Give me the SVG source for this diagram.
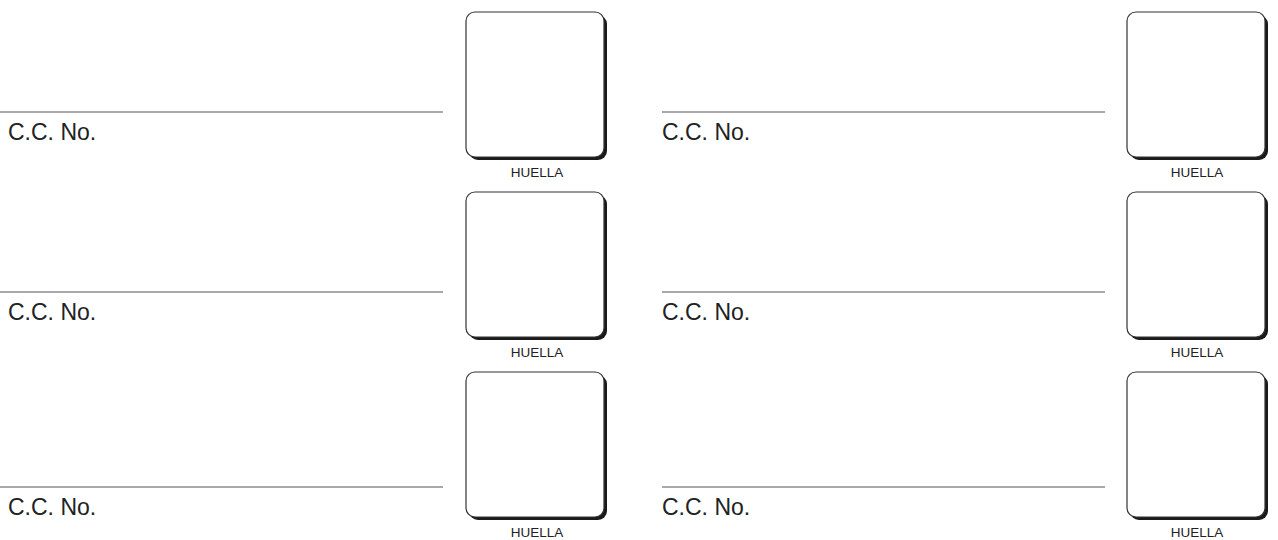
<svg xmlns="http://www.w3.org/2000/svg" width="1278" height="540" viewBox="0 0 1278 540">
<style>
.bg{fill:#fff}
.line{stroke:#555;stroke-width:1.2}
.cc{font-family:"Liberation Sans",Arial,sans-serif;font-size:23px;fill:#222}
.hl{font-family:"Liberation Sans",Arial,sans-serif;font-size:13.5px;fill:#222;text-anchor:middle}
.sh{fill:#1a1a1a}
.box{fill:#fff;stroke:#333;stroke-width:1.2}
</style>
<defs>
<g id="fp">
<rect class="sh" x="3" y="3" width="138" height="145" rx="9"/>
<rect class="box" x="0" y="0" width="138" height="145" rx="9"/>
</g>
</defs>
<rect class="bg" width="1278" height="540"/>
<g id="connectors">
<line class="line" x1="0" y1="112" x2="443" y2="112"/>
<line class="line" x1="0" y1="292" x2="443" y2="292"/>
<line class="line" x1="0" y1="487" x2="443" y2="487"/>
<line class="line" x1="662" y1="112" x2="1105" y2="112"/>
<line class="line" x1="662" y1="292" x2="1105" y2="292"/>
<line class="line" x1="662" y1="487" x2="1105" y2="487"/>
</g>
<g id="label-l1"><text class="cc" x="8" y="140">C.C. No.</text></g>
<g id="label-l2"><text class="cc" x="8" y="320">C.C. No.</text></g>
<g id="label-l3"><text class="cc" x="8" y="515">C.C. No.</text></g>
<g id="label-r1"><text class="cc" x="662" y="140">C.C. No.</text></g>
<g id="label-r2"><text class="cc" x="662" y="320">C.C. No.</text></g>
<g id="label-r3"><text class="cc" x="662" y="515">C.C. No.</text></g>
<g id="huella-l1"><use href="#fp" x="466" y="12"/><text class="hl" x="537" y="177">HUELLA</text></g>
<g id="huella-l2"><use href="#fp" x="466" y="192"/><text class="hl" x="537" y="357">HUELLA</text></g>
<g id="huella-l3"><use href="#fp" x="466" y="372"/><text class="hl" x="537" y="537">HUELLA</text></g>
<g id="huella-r1"><use href="#fp" x="1127" y="12"/><text class="hl" x="1197" y="177">HUELLA</text></g>
<g id="huella-r2"><use href="#fp" x="1127" y="192"/><text class="hl" x="1197" y="357">HUELLA</text></g>
<g id="huella-r3"><use href="#fp" x="1127" y="372"/><text class="hl" x="1197" y="537">HUELLA</text></g>
</svg>
